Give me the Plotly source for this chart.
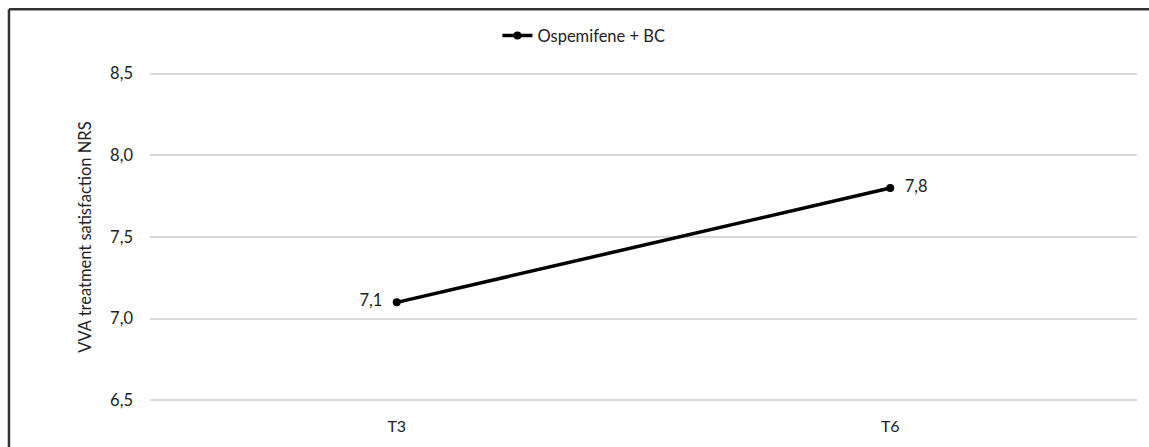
import plotly.graph_objects as go

categories = ["T3", "T6"]
values = [7.1, 7.8]
series_name = "Ospemifene + BC"
y_ticks = [6.5, 7.0, 7.5, 8.0, 8.5]
y_title = "VVA treatment satisfaction NRS"

FONT = "Lato, 'Open Sans', sans-serif"
PAD = "\u00a0\u00a0"

labels = [f"{v:.1f}".replace(".", ",") for v in values]
labels = [labels[0] + PAD, PAD + labels[1]]

fig = go.Figure()
fig.add_trace(go.Scatter(
    x=categories, y=values, name=series_name,
    mode="lines+markers+text",
    line=dict(color="black", width=3.5),
    marker=dict(color="black", size=8),
    text=labels,
    textposition=["middle left", "middle right"],
    textfont=dict(family=FONT, size=16.5, color="#222"),
    showlegend=True,
))

fig.update_layout(
    width=1149, height=447,
    margin=dict(l=150, r=12, t=72, b=39),
    paper_bgcolor="white", plot_bgcolor="white",
    font=dict(family=FONT, size=16, color="#222"),
    showlegend=True,
    legend=dict(orientation="h", x=0.352, y=1.11, xanchor="left", yanchor="middle",
                font=dict(family=FONT, size=16.5, color="#222"),
                bgcolor="rgba(0,0,0,0)", itemwidth=30),
    xaxis=dict(range=[-0.5, 1.5], showgrid=False, zeroline=False, showline=False,
               ticks="", ticklabelstandoff=13, tickfont=dict(size=16)),
    yaxis=dict(range=[6.49, 8.51], tickvals=y_ticks,
               ticktext=[f"{t:.1f}".replace(".", ",") for t in y_ticks],
               showgrid=True, gridcolor="#d9d9d9", gridwidth=1.5,
               zeroline=False, showline=False, ticks="", ticklabelstandoff=16,
               tickfont=dict(size=16.5),
               title=dict(text=y_title, standoff=14, font=dict(size=16.5))),
    shapes=[
        dict(type="line", xref="paper", yref="paper", x0=-0.1429, x1=1.1, y0=1.19, y1=1.19,
             line=dict(color="#333", width=2.5)),
        dict(type="line", xref="paper", yref="paper", x0=-0.1429, x1=-0.1429, y0=1.19, y1=-0.3,
             line=dict(color="#333", width=2.5)),
    ],
)

fig.write_html(
    "out.html",
    config={"displayModeBar": False},
    post_script="document.body.style.margin='0';document.body.style.overflow='hidden';",
)
